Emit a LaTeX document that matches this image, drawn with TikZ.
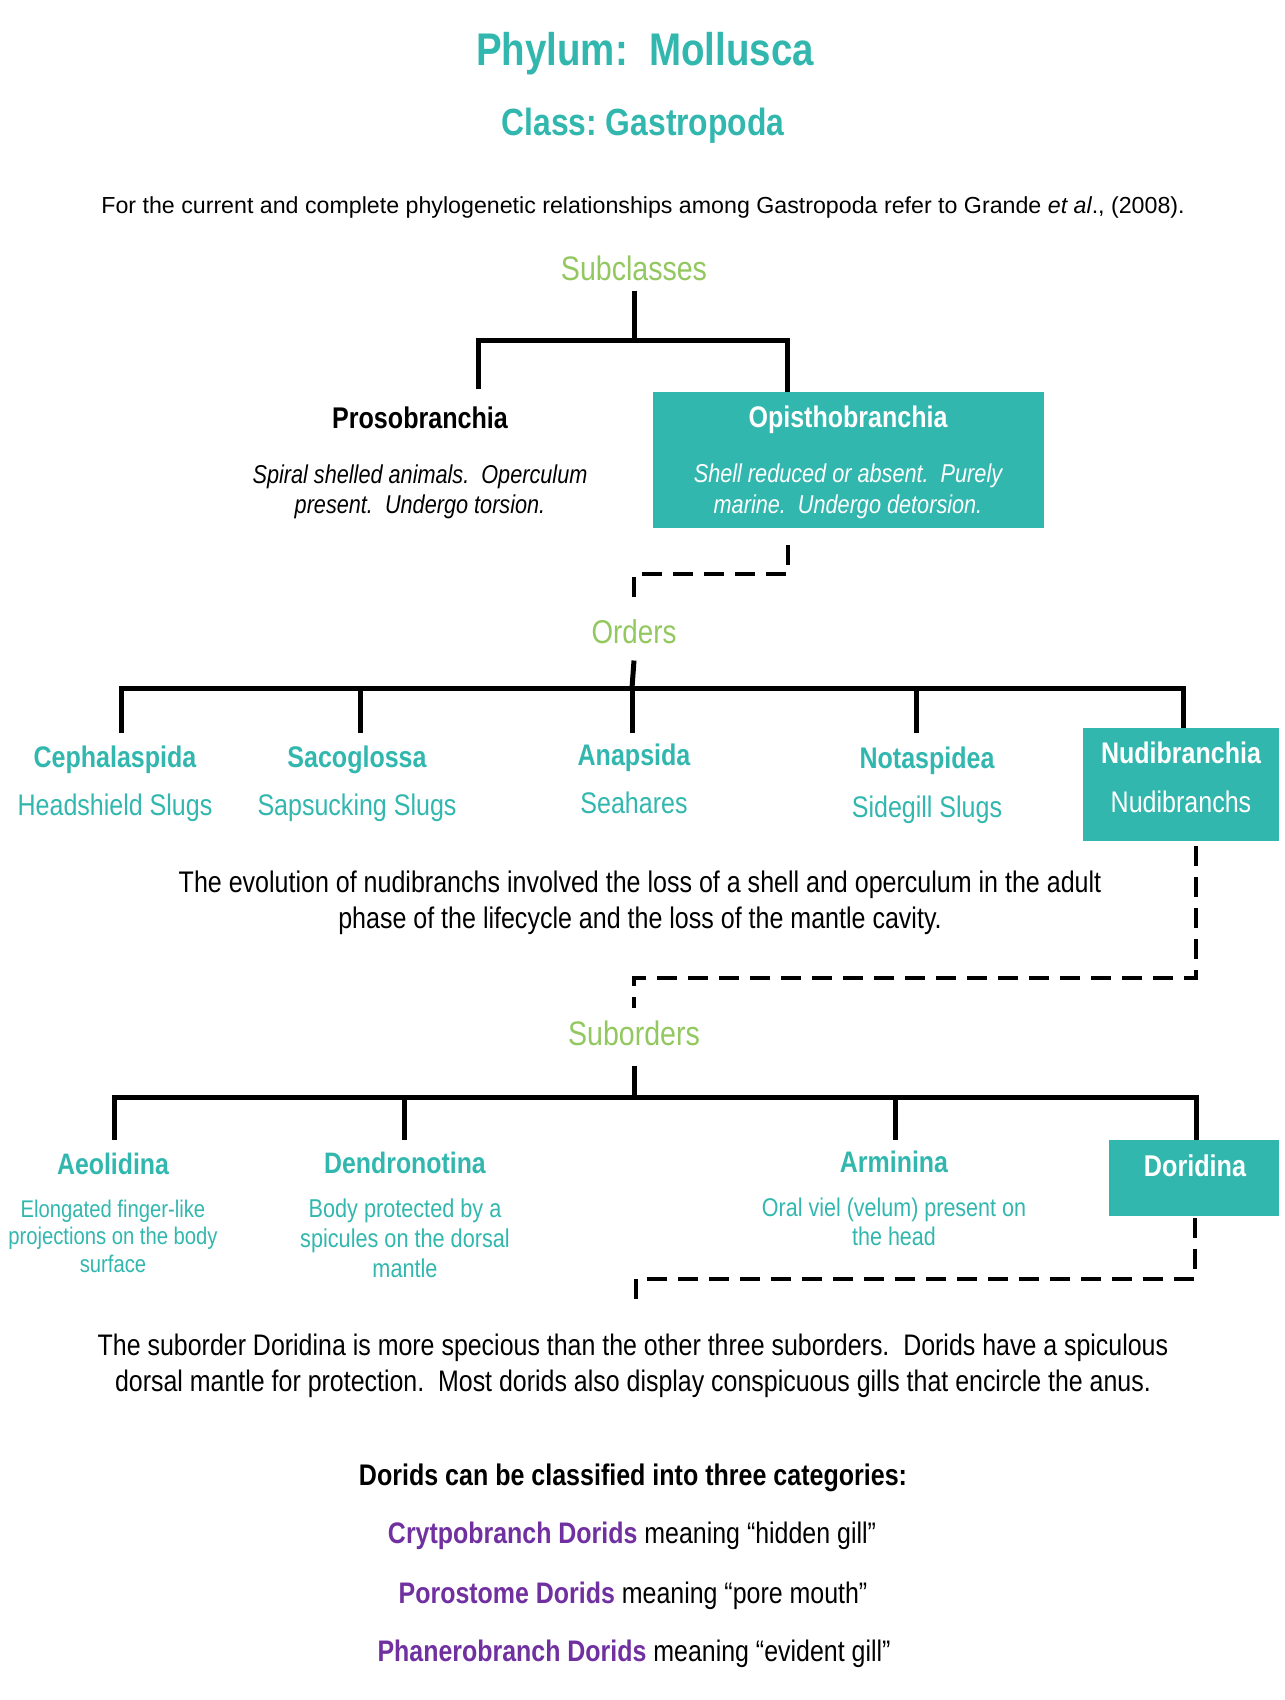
\documentclass[tikz,border=0pt]{standalone}
\usepackage{fontspec}
\setmainfont[FakeStretch=0.84]{Liberation Sans}
\newfontfamily\plainsans{Liberation Sans}
\usetikzlibrary{positioning}
\definecolor{seateal}{RGB}{50,183,175}
\definecolor{leafgreen}{RGB}{146,200,95}
\definecolor{doridpurple}{RGB}{112,48,160}

\begin{document}
\frenchspacing
\begin{tikzpicture}[x=1pt,y=-1pt,
    every node/.style={inner sep=0pt,anchor=base,align=center},
    tree/.style={draw=black,line width=5pt},
    dashtree/.style={draw=black,line width=4pt,dash pattern=on 20pt off 11pt},
    rank/.style={text=leafgreen,font=\fontsize{33}{40}\selectfont},
    taxon/.style={text=seateal,font=\bfseries\fontsize{29.8}{36}\selectfont},
    common/.style={text=seateal,font=\fontsize{29.8}{36}\selectfont},
    tealbox/.style={fill=seateal,anchor=center},
    note/.style={font=\fontsize{29.8}{36}\selectfont}]
  \useasboundingbox (0,0) rectangle (1285,1700);

  % headings
  \node[text=seateal,font=\bfseries\fontsize{45.8}{55}\selectfont] (phylum) at (645,65) {Phylum:~ Mollusca};
  \node[text=seateal,font=\bfseries\fontsize{37.9}{45}\selectfont] (class) at (643,135) {Class: Gastropoda};
  \node[font=\plainsans\fontsize{23.2}{28}\selectfont] (intro) at (643,213)
    {For the current and complete phylogenetic relationships among Gastropoda refer to Grande \textit{et al}., (2008).};

  % subclasses
  \node[rank,font=\fontsize{34}{40}\selectfont] (subcl) at (634,280) {Subclasses};
  \node[font=\bfseries\fontsize{29.9}{36}\selectfont] (proso) at (420,428) {Prosobranchia};
  \node[font=\itshape\fontsize{25.8}{30.5}\selectfont] (prosodesc) at (420,513.5)
    {Spiral shelled animals.~ Operculum\\present.~ Undergo torsion.};
  \node[tealbox,minimum width=391pt,minimum height=136pt] (opis) at (848.5,460) {};
  \node[text=white,font=\bfseries\fontsize{29.8}{36}\selectfont] (opistitle) at (848,427) {Opisthobranchia};
  \node[text=white,font=\itshape\fontsize{25.8}{31}\selectfont] (opisdesc) at (848,513)
    {Shell reduced or absent.~ Purely\\marine.~ Undergo detorsion.};

  \coordinate (sc-bar) at (634,340);
  \coordinate (proso-in) at (478,389);
  \coordinate (opis-in) at (787,392);
  \draw[tree] ([yshift=-10pt]subcl.south) -- (sc-bar);
  \draw[tree] (proso-in) |- (sc-bar) -| (opis-in);

  % orders
  \node[rank] (orders) at (634,643) {Orders};
  \coordinate (opis-out) at (788,545);
  \draw[dashtree] (opis-out) -- ++(0,29) -| ([yshift=19pt]orders.north);

  \node[taxon] (ceph) at (115,767) {Cephalaspida};
  \node[common] (cephname) at (115,815) {Headshield Slugs};
  \node[taxon] (saco) at (357,767) {Sacoglossa};
  \node[common] (saconame) at (357,815) {Sapsucking Slugs};
  \node[taxon] (anap) at (634,765) {Anapsida};
  \node[common] (anapname) at (634,813) {Seahares};
  \node[taxon] (nota) at (927,768) {Notaspidea};
  \node[common] (notaname) at (927,817) {Sidegill Slugs};
  \node[tealbox,minimum width=196pt,minimum height=113pt] (nudi) at (1181,784.5) {};
  \node[taxon,text=white] (nudititle) at (1181,763) {Nudibranchia};
  \node[common,text=white] (nudiname) at (1181,812) {Nudibranchs};

  \coordinate (ord-bar) at (632,688);
  \draw[tree] ([yshift=-17pt]orders.south) -- (ord-bar);
  \foreach \n/\x in {ceph/121,saco/360,anap/632,nota/916} {
    \coordinate (\n-in) at (\x,733);
    \draw[tree] (\n-in) |- (ord-bar);
  }
  \draw[tree] (nudi.north -| 1183,0) |- (ord-bar);

  \node[note] (nudinote) at (640,928)
    {The evolution of nudibranchs involved the loss of a shell and operculum in the adult\\phase of the lifecycle and the loss of the mantle cavity.};

  % suborders
  \node[rank,font=\fontsize{34}{40}\selectfont] (subord) at (634,1045) {Suborders};
  \coordinate (nudi-out) at (1196,846);
  \draw[dashtree] (nudi-out) -- (1196,978) -| ([yshift=12pt]subord.north);

  \node[taxon,font=\bfseries\fontsize{29.6}{36}\selectfont] (aeol) at (113,1174) {Aeolidina};
  \node[common,font=\fontsize{24.1}{27.5}\selectfont] (aeoldesc) at (113,1272)
    {Elongated finger-like\\projections on the body\\surface};
  \node[taxon,font=\bfseries\fontsize{29.6}{36}\selectfont] (dend) at (405,1173) {Dendronotina};
  \node[common,font=\fontsize{25.8}{30}\selectfont] (denddesc) at (405,1277)
    {Body protected by a\\spicules on the dorsal\\mantle};
  \node[taxon,font=\bfseries\fontsize{29.7}{36}\selectfont] (armi) at (894,1172) {Arminina};
  \node[common,font=\fontsize{25.6}{29}\selectfont] (armidesc) at (894,1245)
    {Oral viel (velum) present on\\the head};
  \node[tealbox,minimum width=170pt,minimum height=76pt] (dori) at (1194,1178) {};
  \node[taxon,text=white,font=\bfseries\fontsize{30}{36}\selectfont] (dorititle) at (1195,1176) {Doridina};

  \coordinate (sub-bar) at (634,1097);
  \draw[tree] ([yshift=-20pt]subord.south) -- (sub-bar);
  \foreach \n/\x in {aeol/114,dend/404,armi/895} {
    \coordinate (\n-in) at (\x,1140);
    \draw[tree] (\n-in) |- (sub-bar);
  }
  \draw[tree] (dori.north -| 1196,0) |- (sub-bar);

  % dorids
  \coordinate (dori-out) at (1195,1218);
  \draw[dashtree] (dori-out) -- (1195,1279) -| (636,1308) coordinate (dori-note);
  \node[note,font=\fontsize{29.7}{36}\selectfont] (dorinote) at (633,1391)
    {The suborder Doridina is more specious than the other three suborders.~ Dorids have a spiculous\\dorsal mantle for protection.~ Most dorids also display conspicuous gills that encircle the anus.};

  \node[font=\bfseries\fontsize{29.8}{36}\selectfont] (cats) at (633,1485) {Dorids can be classified into three categories:};
  \begin{scope}[every node/.style={inner sep=0pt,anchor=base,font=\fontsize{29.7}{36}\selectfont}]
    \node (crypt) at (632,1543) {\textcolor{doridpurple}{\bfseries Crytpobranch Dorids} meaning “hidden gill”};
    \node (poro) at (633,1603) {\textcolor{doridpurple}{\bfseries Porostome Dorids} meaning “pore mouth”};
    \node (phan) at (634,1661) {\textcolor{doridpurple}{\bfseries Phanerobranch Dorids} meaning “evident gill”};
  \end{scope}
\end{tikzpicture}
\end{document}
